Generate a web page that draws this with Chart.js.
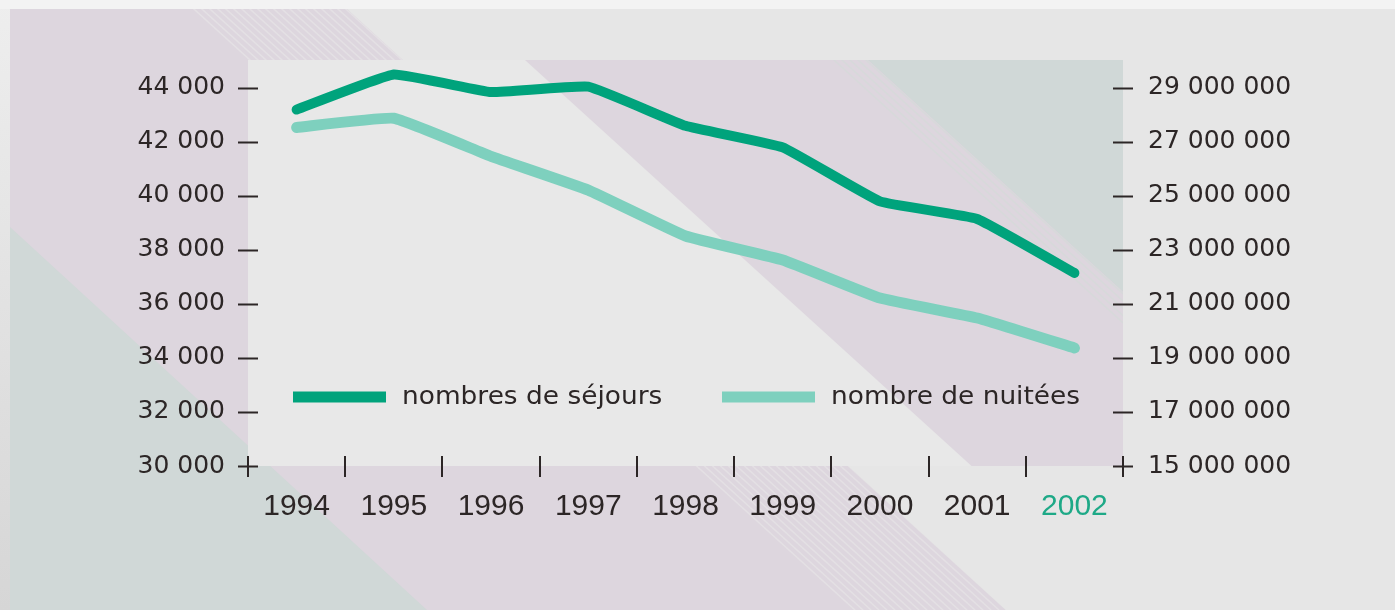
<!DOCTYPE html>
<html>
<head>
<meta charset="utf-8">
<script src="https://cdn.jsdelivr.net/npm/chart.js@4.4.0/dist/chart.umd.min.js"></script>
<style>
  html, body { margin: 0; padding: 0; background: #e6e6e6; }
  #wrap { width: 1395px; height: 610px; }
</style>
</head>
<body>
<div id="wrap"><canvas id="myChart" width="1395" height="610"></canvas></div>
<script>
// data
var years = ["1994", "1995", "1996", "1997", "1998", "1999", "2000", "2001", "2002"];
var sejours = [43200, 44500, 43850, 44050, 42600, 41800, 39800, 39150, 37150];
var nuitees = [27540000, 27880000, 26470000, 25220000, 23520000, 22630000, 21220000, 20480000, 19370000];
var leftTicks = [30000, 32000, 34000, 36000, 38000, 40000, 42000, 44000];
var rightTicks = [15000000, 17000000, 19000000, 21000000, 23000000, 25000000, 27000000, 29000000];

var darkGreen = "#00a37c";
var lightGreen = "#7ed0be";
var inkColor = "#2c2626";

function fmt(v) {
    return String(v).replace(/\B(?=(\d{3})+(?!\d))/g, " ");
}

// page decoration: diagonal bands behind the chart
function band(ctx, pts, color) {
    ctx.beginPath();
    ctx.moveTo(pts[0][0], pts[0][1]);
    for (var i = 1; i < pts.length; i++) ctx.lineTo(pts[i][0], pts[i][1]);
    ctx.closePath();
    ctx.fillStyle = color;
    ctx.fill();
}

function hatch(ctx, pts, color, k) {
    ctx.save();
    ctx.beginPath();
    ctx.moveTo(pts[0][0], pts[0][1]);
    for (var i = 1; i < pts.length; i++) ctx.lineTo(pts[i][0], pts[i][1]);
    ctx.closePath();
    ctx.clip();
    ctx.strokeStyle = color;
    ctx.lineWidth = 1.5;
    for (var x = -800; x < 1600; x += 8) {
        ctx.beginPath();
        ctx.moveTo(x, 0);
        ctx.lineTo(x + k * 610, 610);
        ctx.stroke();
    }
    ctx.restore();
}

var backdrop = {
    id: 'backdrop',
    beforeDraw: function (chart) {
        var ctx = chart.ctx, a = chart.chartArea;
        var W = chart.width, H = chart.height;
        var purple = "#ddd6de", sage = "#d0d8d7";
        ctx.save();
        ctx.fillStyle = "#e6e6e6";
        ctx.fillRect(0, 0, W, H);
        ctx.fillStyle = "#f3f3f3";
        ctx.fillRect(0, 0, W, 9);
        var g = ctx.createLinearGradient(0, 0, 0, H);
        g.addColorStop(0, "#eeeeee");
        g.addColorStop(1, "#d6d6d6");
        ctx.fillStyle = g;
        ctx.fillRect(0, 9, 10, H);

        // big purple band running from top-left to bottom
        band(ctx, [[10, 9], [347, 9], [347 + 1.096 * 601, 610], [10, 610]], purple);
        hatch(ctx, [[190, 9], [347, 9], [347 + 1.096 * 601, 610], [190 + 1.1 * 601, 610]], "#e4e0e4", 1.1);
        // sage corner bottom-left
        band(ctx, [[10, 227], [427, 610], [10, 610]], sage);

        // plot panel
        ctx.fillStyle = "#e8e8e8";
        ctx.fillRect(a.left, a.top, a.right - a.left, a.bottom - a.top);
        ctx.beginPath();
        ctx.rect(a.left, a.top, a.right - a.left, a.bottom - a.top);
        ctx.clip();
        var h = a.bottom - a.top;
        band(ctx, [[525, a.top], [a.right, a.top], [a.right, a.bottom], [525 + 1.1 * h, a.bottom]], purple);
        band(ctx, [[868, a.top], [a.right, a.top], [a.right, a.top + (a.right - 868) / 1.1]], sage);
        hatch(ctx, [[830, a.top], [868, a.top], [a.right, a.top + (a.right - 868) / 1.1], [a.right, a.top + (a.right - 830) / 1.1]], "#d7d9da", 1.1);
        ctx.restore();
    }
};

// short tick marks straddling the axes, like the original
var tickMarks = {
    id: 'tickMarks',
    afterDraw: function (chart) {
        var ctx = chart.ctx, a = chart.chartArea;
        var xs = chart.scales.x, yl = chart.scales.y, yr = chart.scales.y2;
        ctx.save();
        ctx.strokeStyle = inkColor;
        ctx.lineWidth = 2;
        ctx.beginPath();
        yl.ticks.forEach(function (t) {
            var p = Math.round(yl.getPixelForValue(t.value)) + 0.5;
            ctx.moveTo(a.left - 10, p); ctx.lineTo(a.left + 10, p);
        });
        yr.ticks.forEach(function (t) {
            var p = Math.round(yr.getPixelForValue(t.value)) + 0.5;
            ctx.moveTo(a.right - 10, p); ctx.lineTo(a.right + 10, p);
        });
        var n = years.length;
        for (var i = 0; i <= n; i++) {
            var px;
            if (i === 0) px = a.left;
            else if (i === n) px = a.right;
            else px = (xs.getPixelForValue(i - 1) + xs.getPixelForValue(i)) / 2;
            px = Math.round(px);
            ctx.moveTo(px, a.bottom - 10); ctx.lineTo(px, a.bottom + 11);
        }
        ctx.stroke();
        ctx.restore();
    }
};

var legendBox = {
    id: 'legendBox',
    afterDraw: function (chart) {
        var ctx = chart.ctx, a = chart.chartArea;
        var y = a.bottom - 69;
        var spots = [a.left + 45, a.left + 474];
        chart.data.datasets.forEach(function (ds, i) {
            var x = spots[i];
            ctx.save();
            ctx.strokeStyle = ds.borderColor;
            ctx.lineWidth = 11;
            ctx.lineCap = 'butt';
            ctx.beginPath();
            ctx.moveTo(x, y);
            ctx.lineTo(x + 93, y);
            ctx.stroke();
            ctx.translate(x + 109, y + 1);
            ctx.scale(1.1, 1);
            ctx.fillStyle = inkColor;
            ctx.font = '24px "DejaVu Sans"';
            ctx.textBaseline = 'middle';
            ctx.fillText(ds.label, 0, 0);
            ctx.restore();
        });
    }
};

var ctx = document.getElementById("myChart").getContext('2d');
var myChart = new Chart(ctx, {
    type: 'line',
    data: {
        labels: years,
        datasets: [{
            label: 'nombres de séjours',
            data: sejours,
            yAxisID: 'y',
            borderColor: darkGreen,
            backgroundColor: darkGreen,
            borderWidth: 10,
            borderCapStyle: 'round',
            borderJoinStyle: 'round',
            pointRadius: 0,
            tension: 0.1,
            clip: false
        }, {
            label: 'nombre de nuitées',
            data: nuitees,
            yAxisID: 'y2',
            borderColor: lightGreen,
            backgroundColor: lightGreen,
            borderWidth: 11,
            borderCapStyle: 'round',
            borderJoinStyle: 'round',
            pointRadius: 0,
            tension: 0.1,
            clip: false
        }]
    },
    options: {
        responsive: false,
        animation: false,
        devicePixelRatio: 1,
        layout: { padding: { top: 60, left: 0, right: 0, bottom: 0 } },
        plugins: {
            legend: { display: false },
            tooltip: { enabled: false }
        },
        scales: {
            x: {
                type: 'category',
                offset: true,
                grid: { display: false, drawTicks: false, offset: true },
                border: { display: false },
                afterFit: function (s) { s.height = 144; },
                ticks: {
                    padding: 23,
                    maxRotation: 0,
                    autoSkip: false,
                    font: { family: '"Liberation Sans", Arial', size: 30 },
                    color: function (c) { return c.index === years.length - 1 ? "#1ea987" : inkColor; }
                }
            },
            y: {
                position: 'left',
                min: 30000,
                max: 45037,
                grid: { display: false, drawTicks: false },
                border: { display: false },
                afterFit: function (s) { s.width = 248; },
                afterBuildTicks: function (s) { s.ticks = leftTicks.map(function (v) { return { value: v }; }); },
                ticks: {
                    padding: 23,
                    color: inkColor,
                    font: { family: '"DejaVu Sans"', size: 25 },
                    callback: function (v) { return fmt(v); }
                }
            },
            y2: {
                position: 'right',
                min: 15000000,
                max: 30037000,
                grid: { display: false, drawTicks: false },
                border: { display: false },
                afterFit: function (s) { s.width = 272; },
                afterBuildTicks: function (s) { s.ticks = rightTicks.map(function (v) { return { value: v }; }); },
                ticks: {
                    padding: 25,
                    color: inkColor,
                    font: { family: '"DejaVu Sans"', size: 25 },
                    callback: function (v) { return fmt(v); }
                }
            }
        }
    },
    plugins: [backdrop, tickMarks, legendBox]
});
</script>
</body>
</html>
